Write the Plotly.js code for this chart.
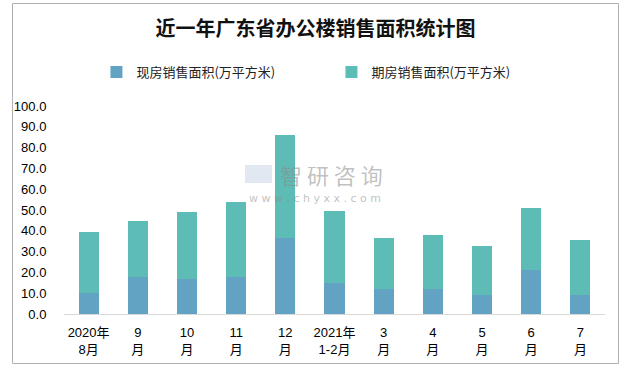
<!DOCTYPE html>
<html>
<head>
<meta charset="utf-8">
<script src="https://cdn.plot.ly/plotly-3.0.1.min.js"></script>
<style>html,body{margin:0;padding:0;background:#fff;}#chart{width:631px;height:370px;}</style>
</head>
<body>
<div id="chart"></div>
<script>
var categories = ['2020年<br>8月','9<br>月','10<br>月','11<br>月','12<br>月','2021年<br>1-2月','3<br>月','4<br>月','5<br>月','6<br>月','7<br>月'];
var spotArea = [10.1, 17.8, 16.8, 17.8, 36.5, 14.9, 12.0, 12.0, 9.1, 21.2, 9.1];
var futuresArea = [29.3, 26.9, 32.2, 36.0, 49.6, 34.6, 24.5, 26.0, 23.6, 29.8, 26.5];
var seriesNames = ['现房销售面积(万平方米)', '期房销售面积(万平方米)'];
var yTicks = [0,10,20,30,40,50,60,70,80,90,100];

var fontFam = 'Liberation Sans, Noto Sans CJK SC, sans-serif';
var traces = [
  {type:'bar', name:seriesNames[0], x:categories, y:spotArea, marker:{color:'#62A3C3'}, hoverinfo:'none'},
  {type:'bar', name:seriesNames[1], x:categories, y:futuresArea, marker:{color:'#5DBCB5'}, hoverinfo:'none'}
];
var layout = {
  width:631, height:370,
  margin:{l:64, r:26, t:106, b:56},
  paper_bgcolor:'#fff', plot_bgcolor:'#fff',
  barmode:'stack', bargap:0.59,
  title:{text:'近一年广东省办公楼销售面积统计图', x:0.5, xanchor:'center', y:0.922, yanchor:'middle',
         font:{family:'Noto Sans CJK SC, serif', size:20, color:'#111', weight:'bold'}},
  showlegend:true,
  legend:{orientation:'h', x:0.06, xanchor:'left', y:1.163, yanchor:'middle',
          entrywidth:190, entrywidthmode:'pixels', itemwidth:30,
          font:{family:'Noto Sans CJK SC, sans-serif', size:13, color:'#222'}, traceorder:'normal'},
  xaxis:{type:'category', showline:true, linecolor:'#d9d9d9', linewidth:1, showgrid:false, zeroline:false,
         ticks:'outside', ticklen:6, tickcolor:'rgba(0,0,0,0)',
         tickfont:{family:fontFam, size:13, color:'#000'}, fixedrange:true},
  yaxis:{range:[0,100], tickvals:yTicks, tickformat:'.1f', showgrid:false, zeroline:false, showline:false,
         ticks:'outside', ticklen:14, tickcolor:'rgba(0,0,0,0)',
         tickfont:{family:fontFam, size:13, color:'#000'}, fixedrange:true},
  shapes:[
    {type:'rect', xref:'paper', yref:'paper', x0:(12.5-64)/541, x1:(618.5-64)/541, y0:(314-363.5)/208, y1:(314-3.5)/208,
     line:{color:'#b0b0b0', width:1}, fillcolor:'rgba(0,0,0,0)', layer:'below'},
    {type:'rect', xref:'paper', yref:'paper', x0:(245-64)/541, x1:(272-64)/541, y0:(314-183)/208, y1:(314-165)/208,
     line:{width:0}, fillcolor:'rgba(190,205,225,0.45)', layer:'above'}
  ],
  annotations:[
    {text:'智 研 咨 询', xref:'paper', yref:'paper', x:(331-64)/541, y:(314-174)/208, showarrow:false,
     font:{family:'Noto Sans CJK SC, sans-serif', size:22, color:'rgba(140,140,140,0.55)'}, xanchor:'center', yanchor:'middle'},
    {text:'w w w . c h y x x . c o m', xref:'paper', yref:'paper', x:(315-64)/541, y:(314-198)/208, showarrow:false,
     font:{family:'DejaVu Sans, sans-serif', size:11, color:'rgba(140,140,140,0.55)'}, xanchor:'center', yanchor:'middle'}
  ]
};
Plotly.newPlot('chart', traces, layout, {displayModeBar:false, staticPlot:true});
</script>
</body>
</html>
